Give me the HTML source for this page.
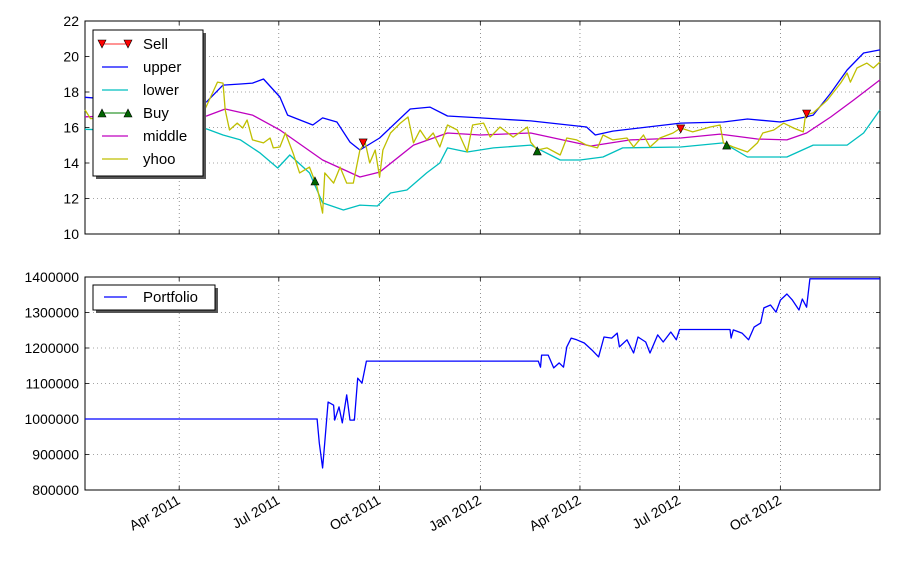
<!DOCTYPE html>
<html><head><meta charset="utf-8"><style>
html,body{margin:0;padding:0;background:#fff;}
svg{display:block;font-family:"Liberation Sans","DejaVu Sans",sans-serif;}
</style></head><body>
<svg id="chart" width="900" height="566" viewBox="0 0 900 566" xmlns="http://www.w3.org/2000/svg"></svg>
<script>
// ---- data (days since 2011-01-01) ----
const tickDays = [90,181,273,365,456,547,639];
const tickLabels = ["Apr 2011","Jul 2011","Oct 2011","Jan 2012","Apr 2012","Jul 2012","Oct 2012"];
const topTicks = [10,12,14,16,18,20,22];
const botTicks = [800000,900000,1000000,1100000,1200000,1300000,1400000];

const upperDays = [4,50,100,115,130,146,157,167,182,189,212,221,234,246,255,273,301,319,335,365,411,462,470,486,548,587,609,639,662,669,685,700,715,730];
const upperVals = [17.7,17.5,17.4,17.44,18.39,18.45,18.5,18.73,17.72,16.7,16.14,16.54,16.31,15.18,14.73,15.41,17.04,17.15,16.65,16.54,16.37,16.03,15.58,15.8,16.25,16.31,16.48,16.31,16.59,16.7,17.94,19.24,20.2,20.37];

const lowerDays = [4,60,100,115,130,146,164,180,191,209,221,240,255,271,283,298,316,328,335,353,377,411,438,456,477,495,548,587,609,645,669,700,715,730];
const lowerVals = [15.9,15.8,15.9,15.92,15.58,15.3,14.56,13.72,14.45,13.44,11.75,11.35,11.63,11.58,12.31,12.48,13.44,14,14.85,14.62,14.85,15.01,14.17,14.17,14.34,14.85,14.9,15.13,14.34,14.34,15.01,15.01,15.69,16.99];

const middleDays = [4,60,100,115,132,157,182,221,255,273,304,335,365,411,466,502,548,584,618,645,663,685,706,730];
const middleVals = [16.6,16.7,16.6,16.65,17.04,16.7,15.86,14.17,13.21,13.49,15.01,15.69,15.58,15.69,14.96,15.3,15.41,15.63,15.35,15.3,15.69,16.59,17.55,18.68];

const yhooDays = [4,9,40,80,100,112,125,130,132,136,143,148,152,157,167,173,176,182,187,194,200,209,216,221,223,231,237,243,249,255,260,264,269,273,276,283,292,299,304,310,316,322,328,335,344,353,358,368,374,383,395,408,411,417,426,438,444,453,462,472,477,486,499,505,514,520,529,541,548,559,575,584,587,596,609,618,623,633,642,651,660,662,669,682,694,700,703,709,718,724,730];
const yhooVals = [16.99,16.5,16.6,16.3,16.8,16.82,18.56,18.5,16.99,15.86,16.25,15.97,16.42,15.3,15.13,15.41,14.85,14.9,15.69,14.56,13.44,13.77,12.65,11.18,13.44,12.87,13.77,12.87,12.87,14.73,15.13,14,14.73,13.21,14.73,15.69,16.25,16.59,15.13,15.86,15.3,15.69,14.9,16.14,15.86,14.62,16.14,16.25,15.46,16.03,15.46,16.03,15.18,14.73,14.85,14.45,15.41,15.3,15.01,14.85,15.58,15.3,15.41,14.9,15.58,14.9,15.41,15.69,15.97,15.75,16.03,16.14,15.13,14.9,14.62,15.13,15.69,15.86,16.25,15.97,15.75,16.7,16.82,17.55,18.5,19.07,18.56,19.35,19.63,19.35,19.69];

const sellDays = [258,548,663];
const sellVals = [15.13,15.92,16.76];
const buyDays = [214,417,590];
const buyVals = [12.99,14.68,15.01];

const portDays = [4,216,218,221,223,226,231,232,236,239,243,246,250,253,257,261,418,420,421,427,432,437,441,444,448,453,460,467,473,478,485,490,492,499,505,509,516,520,527,532,539,544,547,593,594,596,604,610,615,621,624,630,635,639,645,650,656,659,663,666,730];
const portVals = [1000000,1000000,932000,862000,935000,1048000,1039000,997000,1034000,989000,1068000,997000,997000,1115000,1101000,1163000,1163000,1146000,1180000,1180000,1144000,1158000,1146000,1203000,1228000,1223000,1214000,1194000,1175000,1231000,1228000,1242000,1203000,1223000,1186000,1231000,1217000,1186000,1237000,1217000,1245000,1223000,1252000,1252000,1228000,1251000,1242000,1223000,1259000,1270000,1313000,1321000,1301000,1335000,1352000,1335000,1307000,1338000,1315000,1395000,1395000];

// ---- layout ----
const NS = "http://www.w3.org/2000/svg";
const svg = document.getElementById('chart');
const X0 = 85, X1 = 880, D0 = 4, D1 = 730;
const xS = d => X0 + (d - D0) * (X1 - X0) / (D1 - D0);
const topY = v => 234 - (v - 10) * (234 - 21) / 12;
const botY = v => 490 - (v - 800000) * (490 - 277) / 600000;

function el(tag, attrs, parent) {
  const e = document.createElementNS(NS, tag);
  for (const k in attrs) e.setAttribute(k, attrs[k]);
  (parent || svg).appendChild(e);
  return e;
}

function axes(name, yT, yB, ticks, yf, fmt) {
  const g = el('g', {});
  
  
  tickDays.forEach(d => {
    const x = xS(d);
    const l = el('line', {x1:x, x2:x, y1:yT, y2:yB, stroke:'#000', 'stroke-width':0.6, 'stroke-dasharray':'1,3', opacity:0.7}, g);
    
    
    el('line', {x1:x, x2:x, y1:yB, y2:yB-4, stroke:'#000', 'stroke-width':0.8}, g);
    el('line', {x1:x, x2:x, y1:yT, y2:yT+4, stroke:'#000', 'stroke-width':0.8}, g);
  });
  ticks.forEach(v => {
    const y = yf(v);
    if (y > yT + 1 && y < yB - 1) {
      const l = el('line', {x1:X0, x2:X1, y1:y, y2:y, stroke:'#000', 'stroke-width':0.6, 'stroke-dasharray':'1,3', opacity:0.7}, g);
      
      
    }
    el('line', {x1:X0, x2:X0+4, y1:y, y2:y, stroke:'#000', 'stroke-width':0.8}, g);
    el('line', {x1:X1, x2:X1-4, y1:y, y2:y, stroke:'#000', 'stroke-width':0.8}, g);
    const t = el('text', {x:79, y:y+5, 'text-anchor':'end', 'font-size':14, fill:'#000'}, g);
    
    
    t.textContent = fmt(v);
  });
  const r = el('rect', {x:X0, y:yT, width:X1-X0, height:yB-yT, fill:'none', stroke:'#000', 'stroke-width':1}, g);
  
  
}

function line(days, vals, yf, color, name) {
  const p = el('polyline', {points: days.map((d,i)=>xS(d).toFixed(1)+','+yf(vals[i]).toFixed(1)).join(' '), fill:'none', stroke:color, 'stroke-width':1.3, 'stroke-linejoin':'round'});
  
  
}

function tri(x, y, down, fill, name, s) {
  s = s || 4;
  const pts = down ? `${x-s},${y-s} ${x+s},${y-s} ${x},${y+s}` : `${x-s},${y+s} ${x+s},${y+s} ${x},${y-s}`;
  const p = el('polygon', {points:pts, fill:fill, stroke:'#000', 'stroke-width':0.6});
  
  
  return p;
}

axes('top-axes', 21, 234, topTicks, topY, v => String(v));
axes('bottom-axes', 277, 490, botTicks, botY, v => String(v));

line(upperDays, upperVals, topY, '#0000ff', 'upper-band-line');
line(lowerDays, lowerVals, topY, '#00bfbf', 'lower-band-line');
line(middleDays, middleVals, topY, '#bf00bf', 'middle-band-line');
line(yhooDays, yhooVals, topY, '#bfbf00', 'yhoo-price-line');
sellDays.forEach((d,i) => tri(xS(d), topY(sellVals[i]), true, '#ff0000', 'sell-marker'));
buyDays.forEach((d,i) => tri(xS(d), topY(buyVals[i]), false, '#006400', 'buy-marker'));
line(portDays, portVals, botY, '#0000ff', 'portfolio-line');

tickDays.forEach((d,i) => {
  const x = xS(d);
  const t = el('text', {x:x+2, y:503, 'text-anchor':'end', 'font-size':14, fill:'#000', transform:`rotate(-30 ${x+2} 503)`});
  
  
  t.textContent = tickLabels[i];
});

const lg = el('g', {});


el('rect', {x:96, y:33, width:110, height:146, fill:'#555'}, lg);
el('rect', {x:93, y:30, width:110, height:146, fill:'#fff', stroke:'#000', 'stroke-width':1}, lg);
const legItems = [
  ['Sell','#ff0000','sell'],['upper','#0000ff',''],['lower','#00bfbf',''],
  ['Buy','#006400','buy'],['middle','#bf00bf',''],['yhoo','#bfbf00','']
];
legItems.forEach((it,i) => {
  const y = 44 + i*23;
  const e = el('g', {}, lg);
  
  
  el('line', {x1:102, x2:128, y1:y, y2:y, stroke: it[2]==='sell' ? '#ff5555' : (it[2]==='buy' ? '#339933' : it[1]), 'stroke-width':1.3}, e);
  if (it[2]) {
    [102,128].forEach(xx => {
      const s=4, down = it[2]==='sell';
      el('polygon', {points: down ? `${xx-s},${y-s} ${xx+s},${y-s} ${xx},${y+s}` : `${xx-s},${y+s} ${xx+s},${y+s} ${xx},${y-s}`, fill: down ? '#ff0000':'#006400', stroke:'#000','stroke-width':0.6}, e);
    });
  }
  const t = el('text', {x:143, y:y+5, 'font-size':15, fill:'#000'}, e);
  t.textContent = it[0];
});

const bl = el('g', {});


el('rect', {x:96, y:288, width:122, height:25, fill:'#555'}, bl);
el('rect', {x:93, y:285, width:122, height:25, fill:'#fff', stroke:'#000', 'stroke-width':1}, bl);
el('line', {x1:104, x2:127, y1:297, y2:297, stroke:'#0000ff', 'stroke-width':1.3}, bl);
const bt = el('text', {x:143, y:302, 'font-size':15, fill:'#000'}, bl);


bt.textContent = 'Portfolio';
</script>
</body></html>
